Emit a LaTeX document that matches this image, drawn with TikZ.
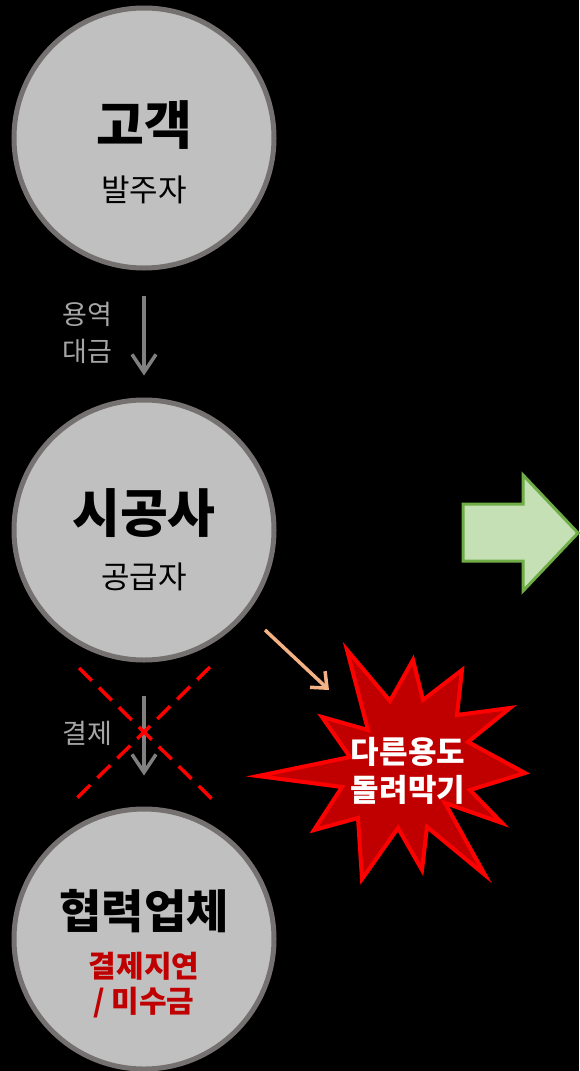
\documentclass[tikz,border=0pt]{standalone}
\usepackage{fontspec}
\setmainfont{Noto Sans CJK KR}
\usetikzlibrary{arrows.meta}
\definecolor{ringgray}{HTML}{767171}
\definecolor{fillgray}{HTML}{C0C0C0}
\definecolor{arrgray}{HTML}{808080}
\definecolor{lblgray}{HTML}{A6A6A6}
\definecolor{darkred}{HTML}{C00000}
\definecolor{brightred}{HTML}{FF0000}
\definecolor{peach}{HTML}{F4B183}
\definecolor{lgreen}{HTML}{C5E0B4}
\definecolor{dgreen}{HTML}{70AD47}
\tikzset{
  party/.style={circle,draw=ringgray,fill=fillgray,line width=5pt,minimum size=260pt,inner sep=0pt},
  title/.style={font=\fontsize{52}{56}\selectfont\bfseries,text=black,inner sep=0pt},
  role/.style={font=\fontsize{31}{35}\selectfont,text=black,inner sep=0pt},
  warn/.style={font=\fontsize{30}{35}\selectfont\bfseries,text=darkred,align=center,inner sep=0pt},
  flow/.style={draw=arrgray,line width=3.5pt,-{Straight Barb[length=18pt,width=24pt,line width=3.5pt]}},
  flowlbl/.style={font=\fontsize{27}{37}\selectfont,text=lblgray,align=center,inner sep=0pt},
  cross/.style={draw=brightred,line width=3.5pt,dash pattern=on 18pt off 10pt},
  burst/.style={fill=darkred,draw=brightred,line width=4pt,line join=miter},
  bursttxt/.style={font=\fontsize{31}{38}\selectfont\bfseries,text=white,align=center,inner sep=0pt},
  side/.style={draw=peach,line width=3.5pt,-{Straight Barb[length=13pt,width=22pt,line width=3.5pt]}},
  bigarrow/.style={fill=lgreen,draw=dgreen,line width=3pt,line join=miter}
}
\begin{document}
\begin{tikzpicture}[x=1pt,y=-1pt]
\fill[black] (0,0) rectangle (579,1071);
\useasboundingbox (0,0) rectangle (579,1071);
% circles
\node[party] (c1) at (144,138) {};
\node[party] (c2) at (144,530) {};
\node[party] (c3) at (144,939) {};
\node[title] (t1) at (144,125) {고객};
\node[role] (r1) at (144,190) {발주자};
\node[title] (t2) at (144,513) {시공사};
\node[role] (r2) at (144,577) {공급자};
\node[title,font=\fontsize{46}{50}\selectfont\bfseries] (t3) at (144,911) {협력업체};
\node[warn] (w3) at (144,985) {결제지연\\/ 미수금};
% vertical flows
\draw[flow,shorten <=25pt,shorten >=22pt] (c1.south) -- (c2.north);
\node[flowlbl] (l1) at (87,333) {용역\\대금};
\draw[flow,shorten <=33pt,shorten >=31pt] (c2.south) -- (c3.north);
\node[flowlbl] (l2) at (87,733) {결제};
% red dashed cross
\coordinate (xa) at (79,668);
\coordinate (xb) at (215,802);
\coordinate (xc) at (210,667);
\coordinate (xd) at (73,802);
\draw[cross] (xa) -- (xb);
\draw[cross] (xc) -- (xd);
% burst
\draw[burst] (347,650) -- (390,701) -- (413,660) -- (423,700) -- (462,670) -- (457,715)
  -- (510,708) -- (468,742) -- (525,773) -- (470,790) -- (502,823) -- (445,803)
  -- (485,875) -- (427,827) -- (422,870) -- (398,828) -- (362,879) -- (358,818)
  -- (314,830) -- (342,787) -- (258,776) -- (350,757) -- (322,717) -- (368,730) -- cycle;
\node[bursttxt] (bt) at (408,771) {다른용도\\돌려막기};
% side arrow
\coordinate (sa) at (265,630);
\coordinate (sb) at (329,690);
\draw[side] (sa) -- (sb);
% big green arrow
\draw[bigarrow] (463,504) -- (523,504) -- (523,475) -- (578,533) -- (523,591) -- (523,561) -- (463,561) -- cycle;
\end{tikzpicture}
\end{document}
